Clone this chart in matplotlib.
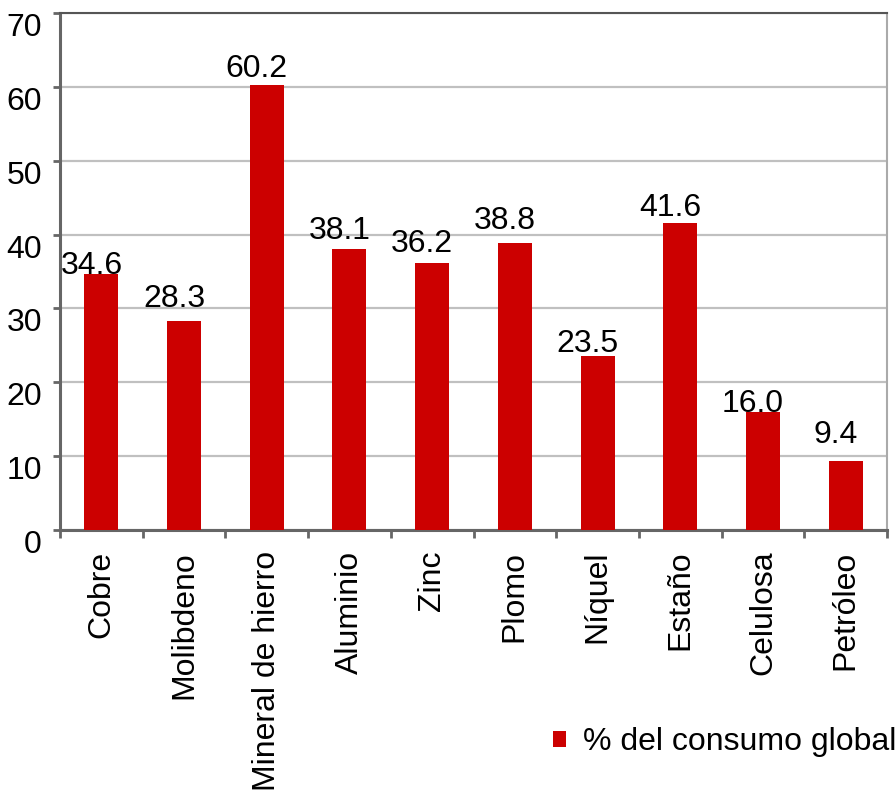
import matplotlib.pyplot as plt
import numpy as np

# data
categorias = ['Cobre', 'Molibdeno', 'Mineral de hierro', 'Aluminio', 'Zinc',
              'Plomo', 'Níquel', 'Estaño', 'Celulosa', 'Petróleo']
valores = [34.6, 28.3, 60.2, 38.1, 36.2, 38.8, 23.5, 41.6, 16.0, 9.4]
yticks = [0, 10, 20, 30, 40, 50, 60, 70]
# gap (pixels) between bar top and value label baseline, as in the original
gap_etiqueta = [0, 14, 8, 10, 11, 14, 4, 7, 0, 18]

plt.rcParams['font.family'] = ['Liberation Sans', 'DejaVu Sans']
FS = 23

fig = plt.figure(figsize=(8.96, 7.91), dpi=100)
ax = fig.add_axes([60/896, 1-530/791, 827/896, 517/791])

x = np.arange(len(categorias))
ax.bar(x, valores, width=0.41, color='#cc0000', zorder=3, label='% del consumo global')

for xi, v, g in zip(x, valores, gap_etiqueta):
    ax.annotate(f'{v:.1f}', (xi, v), xytext=(-10, g), textcoords='offset pixels',
                ha='center', va='baseline', fontsize=FS, color='black', zorder=4)

ax.set_xlim(-0.5, len(categorias) - 0.5)
ax.set_ylim(0, 70)
ax.set_yticks(yticks)
# labels sit a little below their gridlines in the original
ax.set_yticklabels([str(t) for t in yticks], fontsize=FS, va='top')
ax.yaxis.grid(True, color='#c0c0c0', linewidth=1.6, zorder=0)

ax.set_xticks(x)
ax.set_xticklabels(categorias, rotation=90, fontsize=FS)
ax.tick_params(axis='x', length=0, pad=15)
ax.set_xticks(np.arange(-0.5, len(categorias)), minor=True)
ax.tick_params(axis='x', which='minor', length=6, width=2, color='#666666', direction='out')
ax.tick_params(axis='y', length=5, width=2, color='#666666', direction='out', pad=8)

for s in ['left', 'bottom']:
    ax.spines[s].set_color('#666666')
    ax.spines[s].set_linewidth(2.2)
ax.spines['top'].set_color('#555555')
ax.spines['top'].set_linewidth(1.5)
ax.spines['right'].set_color('#aaaaaa')
ax.spines['right'].set_linewidth(1.5)

fig.legend(loc='center left', bbox_to_anchor=(553/896, 1-742/791), frameon=False,
           fontsize=FS, handlelength=0.4, handleheight=0.4, handletextpad=0.55,
           borderaxespad=0, borderpad=0)

fig.savefig('out.png', dpi=100)
